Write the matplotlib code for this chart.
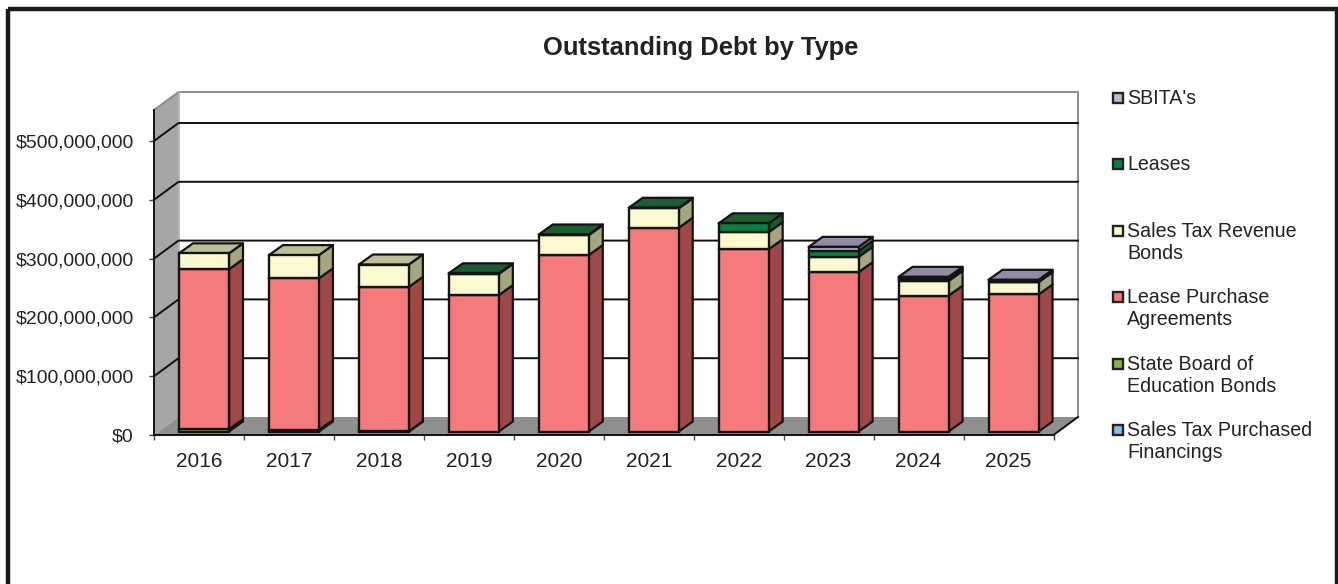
import numpy as np
import matplotlib
matplotlib.use("Agg")
import matplotlib.pyplot as plt
from matplotlib.patches import Rectangle
from matplotlib.transforms import Affine2D

plt.rcParams["font.family"] = ["Liberation Sans", "DejaVu Sans"]

# values in $ millions
years = ["2016", "2017", "2018", "2019", "2020", "2021", "2022", "2023", "2024", "2025"]
sales_tax_purchased = [0, 0, 0, 0, 0, 0, 0, 0, 0, 0]
state_board = [4, 2.5, 0.5, 0, 0, 0, 0, 0, 0, 0]
lease_purchase = [272, 258, 245.5, 232, 300, 346.5, 310, 271, 231, 233]
revenue_bonds = [27, 39.5, 38, 36, 34, 33, 29, 26, 25, 21]
leases = [0, 0, 0, 1, 1, 1, 15, 10, 3, 1]
sbitas = [0, 0, 0, 0, 0, 0, 0, 7, 4, 3]
y_ticks = [0, 100, 200, 300, 400, 500]

W, H = 1338, 584
AX_L, AX_R, AX_B, AX_T = 154, 1053.5, 435, 110   # front plane, pixels from top-left
PX_PER_M = 0.588
WALL_DX, WALL_DY = 24.5, 18    # depth of the chart box
BAR_DX, BAR_DY = 14, 10        # depth of one bar
GAP_DX, GAP_DY = 5, 3.5        # bars stand a little behind the front edge
BAR_PX = 50
EDGE = "#141414"

# name, front, side, top
series = [
    ("Sales Tax Purchased\nFinancings", sales_tax_purchased, "#8DBBE3", "#5A7A95", "#6A8CA8"),
    ("State Board of\nEducation Bonds", state_board, "#7DB83C", "#3F5E20", "#5E8A2E"),
    ("Lease Purchase\nAgreements", lease_purchase, "#F47A7C", "#A04848", "#B85C5E"),
    ("Sales Tax Revenue\nBonds", revenue_bonds, "#FCF8CF", "#A5A580", "#BDBD96"),
    ("Leases", leases, "#0A7F40", "#14592E", "#1D5E30"),
    ("SBITA's", sbitas, "#C2B6D4", "#7F748F", "#958AA6"),
]

fig = plt.figure(figsize=(W / 100, H / 100), dpi=100)
ax = fig.add_axes([AX_L / W, 1 - AX_B / H, (AX_R - AX_L) / W, (AX_B - AX_T) / H])
ax.patch.set_alpha(0)
ax.set_xlim(0, len(years))
ax.set_ylim(0, (AX_B - AX_T) / PX_PER_M)

ux = len(years) / (AX_R - AX_L)   # data units per pixel
uy = 1 / PX_PER_M
x_all = np.arange(len(years))

# outer frame, runs off the bottom of the picture
pix = Affine2D().scale(1, -1).translate(0, H)
fig.add_artist(Rectangle((8, 9), 1328.5, 600, transform=pix, fill=False, ec="#1a1a1a", lw=3.2))

# box: left wall, floor, back wall
n = len(years)
top = ax.get_ylim()[1]
wx, wy = WALL_DX * ux, WALL_DY * uy
ax.fill([0, wx, wx, 0], [0, wy, top + wy, top], fc="#A6A6A6", ec="none", clip_on=False, zorder=1)
ax.fill([0, n, n + wx, wx], [0, 0, wy, wy], fc="#8F8F8F", ec="none", clip_on=False, zorder=1)
ax.plot([0, wx, n + wx, n + wx], [top, top + wy, top + wy, wy], color="#8C8C8C", lw=1.4,
        clip_on=False, zorder=1.5)
ax.plot([wx, wx], [wy, top + wy], color="#B0B0B0", lw=1.2, clip_on=False, zorder=1.5)
for t in y_ticks[1:]:
    ax.plot([0, wx, n + wx], [t, t + wy, t + wy], color="#111111", lw=1.4, clip_on=False, zorder=2)
ax.plot([n, n + wx], [0, wy], color="#111111", lw=1.4, clip_on=False, zorder=2)

# bars, drawn left to right
gx, gy = GAP_DX * ux, GAP_DY * uy
bw = BAR_PX * ux
dx, dy = BAR_DX * ux, BAR_DY * uy
cum = np.zeros(n)
tops = np.sum([s[1] for s in series], axis=0)
for name, vals, front, side, roof in series:
    vals = np.array(vals, dtype=float)
    mask = vals > 0
    left = x_all + gx + 0.5 - bw / 2
    base = cum + gy
    for xl, b, v in zip(left[mask], base[mask], vals[mask]):
        xr = xl + bw
        ax.fill([xr, xr + dx, xr + dx, xr], [b, b + dy, b + v + dy, b + v],
                fc=side, ec=EDGE, lw=1.6, joinstyle="round", clip_on=False, zorder=3)
    ax.bar(left[mask], vals[mask], width=bw, bottom=base[mask], align="edge", color=front,
           edgecolor=EDGE, linewidth=1.7, clip_on=False, zorder=4)
    # roof only for the series that ends the stack
    ends = mask & np.isclose(cum + vals, tops)
    for xl, b in zip(left[ends], (base + vals)[ends]):
        ax.fill([xl, xl + bw, xl + bw + dx, xl + dx], [b, b, b + dy, b + dy],
                fc=roof, ec=EDGE, lw=1.6, joinstyle="round", clip_on=False, zorder=3.5)
    cum = cum + vals

# axes
for s in ("top", "right"):
    ax.spines[s].set_visible(False)
for s in ("left", "bottom"):
    ax.spines[s].set_linewidth(1.4)
    ax.spines[s].set_color("#111111")
    ax.spines[s].set_zorder(5)
ax.set_xticks(np.arange(n + 1))
ax.set_xticklabels([])
ax.set_xticks(x_all + 0.5, minor=True)
ax.set_xticklabels(years, minor=True)
ax.tick_params(axis="x", which="major", length=3.6, width=1, color="#444444")
ax.tick_params(axis="x", which="minor", length=0, pad=12, labelsize=15, labelcolor="#222222")
ax.set_yticks(y_ticks)
ax.set_yticklabels([f"${t * 1000000:,.0f}" for t in y_ticks])
ax.tick_params(axis="y", length=3.6, width=1, color="#444444", pad=11, labelsize=13.95,
               labelcolor="#222222")

fig.text(700.5 / W, 1 - 48 / H, "Outstanding Debt by Type", ha="center", va="center",
         fontsize=18.35, fontweight="bold", color="#222222")

# legend, top entry first
legend_y = [97.5, 163.5, 230.5, 297, 363.5, 430]
for (name, vals, front, side, roof), ly in zip(series[::-1], legend_y):
    fig.add_artist(Rectangle((1113, ly - 5), 10, 10, transform=pix, fc=front, ec="#222222", lw=1.7))
    fig.text(1127 / W, 1 - (ly - 8.5) / H, name, ha="left", va="top", fontsize=14.1,
             color="#222222", linespacing=1.2)

fig.savefig("out.png", dpi=100)
